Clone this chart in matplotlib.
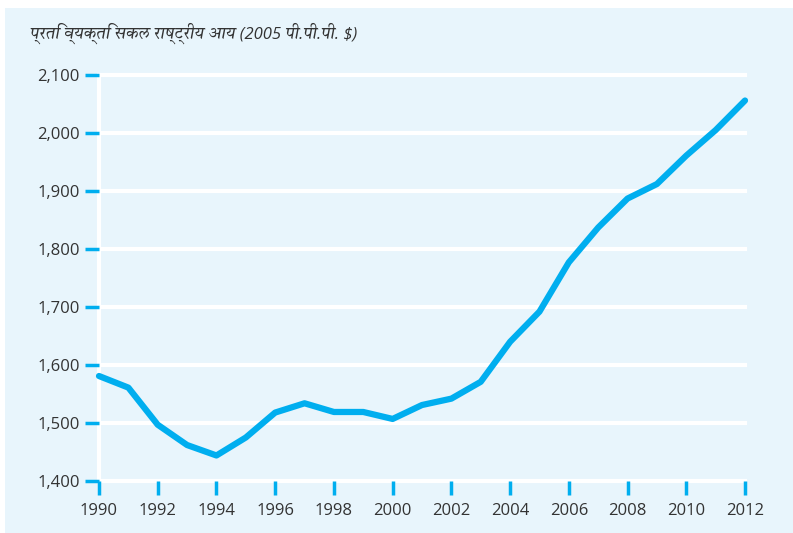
import matplotlib
matplotlib.use("Agg")
import matplotlib.pyplot as plt
from matplotlib import font_manager
from matplotlib.ft2font import FT2Font
from matplotlib.patches import Rectangle

# ---- data ----
years = list(range(1990, 2013))
gni = [1581, 1561, 1497, 1462, 1444, 1475, 1518, 1534, 1519, 1519, 1507,
       1531, 1542, 1571, 1640, 1692, 1777, 1837, 1887, 1912, 1961, 2005, 2056]
yticks = [1400, 1500, 1600, 1700, 1800, 1900, 2000, 2100]
xticks = list(range(1990, 2013, 2))
title = "प्रति व्यक्ति सकल राष्ट्रीय आय (2005 पी.पी.पी. $)"

# find fonts with Devanagari glyphs, prefer sans / non-mono
cands = []
for f in font_manager.fontManager.ttflist:
    try:
        if 0x092A in FT2Font(f.fname).get_charmap():
            cands.append(f.name)
    except Exception:
        pass
def _rank(n):
    n2 = n.lower()
    score = 0
    if "mono" in n2:
        score += 10
    if "serif" in n2:
        score += 5
    if "sans" in n2:
        score -= 3
    return score
cands = sorted(set(cands), key=_rank)
deva = cands[0] if cands else None
title_family = ["Open Sans"] + ([deva] if deva else []) + ["DejaVu Sans"]

BLUE = "#00AEEF"
PANEL = "#E8F5FC"
TXT = "#333333"
plt.rcParams["font.family"] = ["Open Sans", "DejaVu Sans"]

fig = plt.figure(figsize=(7.93, 5.33), dpi=100)
fig.patch.set_facecolor("white")
fig.patches.append(Rectangle((5 / 793, 0), 1 - 5 / 793, 1 - 8 / 533,
                             transform=fig.transFigure, facecolor=PANEL,
                             edgecolor="none", zorder=-10))

ax = fig.add_axes([99 / 793, 1 - 481 / 533, (745 - 99) / 793, (481 - 75) / 533])
ax.set_zorder(5)
ax.set_facecolor("none")
ax.set_xlim(1990, 2012)
ax.set_ylim(1400, 2100)

for v in yticks:
    ax.axhline(v, color="white", lw=3, zorder=1, clip_on=False)
ax.plot([1990, 1990], [1400, 2100], color="white", lw=3, zorder=1, clip_on=False)

ax.plot(years, gni, color=BLUE, lw=4.5, solid_capstyle="round",
        solid_joinstyle="round", zorder=3, clip_on=False)

for s in ax.spines.values():
    s.set_visible(False)

ax.set_yticks(yticks)
ax.set_yticklabels([f"{v:,}" for v in yticks])
ax.set_xticks(xticks)
ax.set_xticklabels([str(v) for v in xticks])
ax.tick_params(axis="y", length=10, width=2.5, color=BLUE, pad=4,
               labelsize=12, labelcolor=TXT, direction="out")
ax.tick_params(axis="x", length=10, width=2.5, color=BLUE, pad=6,
               labelsize=12, labelcolor=TXT, direction="out")

fig.text(30 / 793, 1 - 33 / 533, title, family=title_family, style="italic",
         fontsize=12, color=TXT, va="center", ha="left")

fig.savefig("out.png", dpi=100, facecolor="white")
